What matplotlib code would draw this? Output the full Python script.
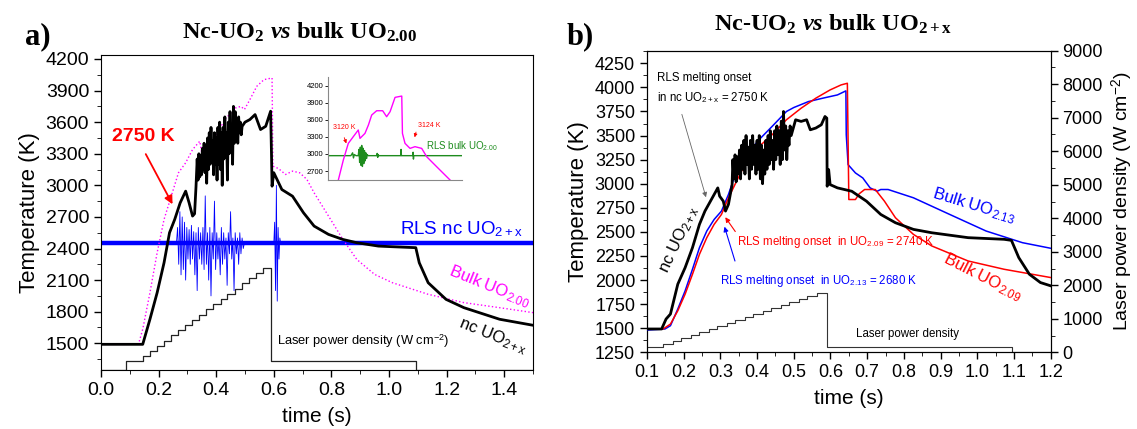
import matplotlib
matplotlib.use("Agg")
import matplotlib.pyplot as plt
from matplotlib.ticker import MultipleLocator

plt.rcParams['font.family'] = ['Liberation Sans', 'DejaVu Sans']
plt.rcParams['mathtext.fontset'] = 'custom'
plt.rcParams['mathtext.rm'] = 'Liberation Serif:bold'
plt.rcParams['mathtext.bf'] = 'Liberation Serif:bold'
plt.rcParams['mathtext.it'] = 'Liberation Serif:bold:italic'
plt.rcParams['mathtext.sf'] = 'Liberation Sans'

# ---------------- panel a data ----------------
# nc UO2+x temperature (black)
a_nc_t = [0.0, 0.145, 0.17, 0.195, 0.219, 0.238, 0.256, 0.275, 0.294, 0.306, 0.318, 0.325, 0.330,
          0.334, 0.337, 0.340, 0.343, 0.346, 0.349, 0.352, 0.355, 0.358, 0.361, 0.364, 0.367, 0.370,
          0.373, 0.376, 0.379, 0.382, 0.385, 0.388, 0.391, 0.394, 0.397, 0.400, 0.403, 0.406, 0.409,
          0.412, 0.415, 0.418, 0.421, 0.424, 0.427, 0.430, 0.433, 0.436, 0.439, 0.442, 0.445, 0.448,
          0.451, 0.454, 0.457, 0.460, 0.463, 0.466, 0.469, 0.472, 0.475, 0.478, 0.481, 0.484, 0.487,
          0.490, 0.500, 0.517, 0.535, 0.554, 0.572, 0.589, 0.592, 0.594, 0.600, 0.628, 0.665, 0.703,
          0.740, 0.790, 0.840, 0.888, 0.963, 1.012, 1.093, 1.105, 1.136, 1.198, 1.260, 1.384, 1.500]
a_nc_T = [1490, 1490, 1728, 1980, 2265, 2550, 2676, 2834, 2945, 2834, 2708, 2730, 2990,
          3250, 3050, 3300, 3080, 3280, 3100, 3350, 3150, 3400, 3120, 3380, 3020, 3450,
          3150, 3500, 3200, 3550, 3250, 3420, 3100, 3500, 3200, 3450, 3050, 3550, 3200,
          3600, 3150, 3500, 3000, 3550, 3250, 3650, 3300, 3500, 3050, 3600, 3300, 3700,
          3350, 3550, 3200, 3750, 3400, 3700, 3450, 3600, 3400, 3650, 3500, 3600, 3480,
          3560, 3600, 3625, 3672, 3530, 3561, 3704, 3300, 2992, 3120, 2960, 2897, 2740,
          2613, 2534, 2486, 2455, 2423, 2417, 2408, 2265, 2075, 1917, 1838, 1728, 1671]

# bulk UO2.00 temperature (magenta dotted)
a_bulk_t = [0.0, 0.130, 0.145, 0.170, 0.195, 0.219, 0.244, 0.269, 0.294, 0.318, 0.343, 0.350, 0.393,
            0.430, 0.467, 0.486, 0.498, 0.517, 0.541, 0.566, 0.594, 0.597, 0.616, 0.641, 0.665, 0.690,
            0.715, 0.740, 0.790, 0.840, 0.888, 0.950, 1.012, 1.136, 1.260, 1.384, 1.500]
a_bulk_T = [1490, 1490, 1633, 1980, 2360, 2676, 2897, 3119, 3214, 3340, 3419, 3308, 3435,
            3625, 3735, 3750, 3720, 3814, 3941, 4004, 4020, 3182, 3160, 3103, 3135, 3119,
            3056, 2929, 2708, 2486, 2297, 2154, 2075, 1965, 1886, 1838, 1791]

# RLS signal on nc UO2+x (blue)
a_rls_t = [0.0, 0.262, 0.266, 0.270, 0.274, 0.278, 0.282, 0.286, 0.290, 0.294, 0.298, 0.302, 0.306,
           0.310, 0.314, 0.318, 0.322, 0.326, 0.330, 0.334, 0.338, 0.342, 0.346, 0.350, 0.354, 0.358,
           0.362, 0.366, 0.370, 0.374, 0.378, 0.382, 0.386, 0.390, 0.394, 0.398, 0.402, 0.406, 0.410,
           0.414, 0.418, 0.422, 0.426, 0.430, 0.434, 0.438, 0.442, 0.446, 0.450, 0.454, 0.458, 0.462,
           0.466, 0.470, 0.474, 0.478, 0.482, 0.486, 0.490, 0.494, 0.498, 0.600, 0.603, 0.606, 0.609,
           0.612, 0.615, 0.618, 0.621, 0.624, 1.500]
a_rls_T = [2450, 2450, 2600, 2250, 2750, 2150, 2700, 2200, 2650, 2100, 2600, 2300, 2580,
           2250, 2620, 2300, 2560, 2150, 2550, 2000, 2600, 2300, 2550, 2250, 2600, 2200,
           2900, 2250, 2550, 2100, 2600, 1950, 2550, 2300, 2850, 2200, 2550, 2300, 2500,
           2150, 2600, 2250, 2550, 2300, 2500, 2050, 2550, 2350, 2750, 2300, 2500, 2000,
           2550, 2350, 2500, 2250, 2550, 2350, 2500, 2400, 2450, 2450, 2650, 2000, 3000,
           1900, 2600, 2300, 2500, 2450, 2450]

# inset: bulk UO2.00 temperature and RLS signal
ins_t = [0.227, 0.256, 0.285, 0.314, 0.343, 0.353, 0.382, 0.402, 0.421, 0.450, 0.485, 0.508,
         0.528, 0.557, 0.596, 0.600, 0.615, 0.644, 0.673, 0.712, 0.741, 0.799, 0.877]
ins_T = [2542, 2893, 3186, 3304, 3421, 3274, 3362, 3509, 3684, 3760, 3760, 3655,
         3743, 3995, 4018, 3362, 3186, 3098, 3128, 3098, 2952, 2776, 2542]
ins_rls_t = [0.165, 0.300, 0.310, 0.315, 0.320, 0.330, 0.343, 0.347, 0.351, 0.355, 0.359, 0.363,
             0.367, 0.371, 0.375, 0.379, 0.383, 0.387, 0.391, 0.395, 0.400, 0.420, 0.450, 0.453,
             0.456, 0.459, 0.462, 0.500, 0.590, 0.592, 0.594, 0.620, 0.660, 0.662, 0.664, 0.666,
             0.700, 0.945]
ins_rls_T = [2970, 2970, 3020, 2930, 2990, 2970, 2970, 3080, 2850, 3120, 2800, 3150,
             2780, 3100, 2830, 3060, 2880, 3020, 2920, 2990, 2970, 2970, 2970, 3010,
             2940, 2990, 2970, 2970, 2970, 3080, 2970, 2970, 2970, 3030, 2910, 2970,
             2970, 2970]

# laser power density steps (W cm-2), shared by both panels
laser_t = [0.0, 0.087, 0.145, 0.170, 0.194, 0.219, 0.243, 0.268, 0.292, 0.317, 0.341, 0.366,
           0.390, 0.415, 0.439, 0.464, 0.488, 0.513, 0.537, 0.562, 0.590, 1.095, 1.500]
laser_p = [0, 150, 240, 330, 420, 510, 600, 690, 780, 870, 960, 1050,
           1140, 1230, 1320, 1410, 1500, 1590, 1680, 1760, 150, 0, 0]

# ---------------- panel b data ----------------
b_nc_t = [0.100, 0.140, 0.152, 0.164, 0.174, 0.184, 0.204, 0.224, 0.243, 0.258, 0.273, 0.288,
          0.293, 0.298, 0.308, 0.314, 0.322, 0.332,
          0.334, 0.337, 0.340, 0.343, 0.346, 0.349, 0.352, 0.355, 0.358, 0.361, 0.364, 0.367,
          0.370, 0.373, 0.376, 0.379, 0.382, 0.385, 0.388, 0.391, 0.394, 0.397, 0.400, 0.403,
          0.406, 0.409, 0.412, 0.415, 0.418, 0.421, 0.424, 0.427, 0.430, 0.433, 0.436, 0.439,
          0.442, 0.445, 0.448, 0.451, 0.454, 0.457, 0.460, 0.463, 0.466, 0.469, 0.472, 0.475,
          0.478, 0.481, 0.484, 0.487, 0.490, 0.493,
          0.505, 0.520, 0.535, 0.545, 0.560, 0.575, 0.585, 0.590, 0.591, 0.595, 0.599, 0.619,
          0.658, 0.698, 0.737, 0.777, 0.826, 0.876, 0.975, 1.073, 1.093, 1.113, 1.142, 1.172, 1.200]
b_nc_T = [1492, 1492, 1595, 1647, 1802, 1957, 2129, 2336, 2578, 2716, 2819, 2922,
          2957, 2871, 2819, 2716, 2785, 2991,
          3250, 3050, 3300, 3020, 3280, 3100, 3350, 3050, 3400, 3150, 3450, 3100,
          3500, 3200, 3380, 3050, 3450, 3150, 3500, 3200, 3400, 3100, 3450, 3150,
          3500, 3050, 3400, 3000, 3350, 3100, 3450, 3150, 3500, 3200, 3550, 3250,
          3450, 3150, 3550, 3250, 3600, 3300, 3550, 3200, 3650, 3250, 3750, 3350,
          3600, 3250, 3550, 3400, 3600, 3500,
          3664, 3647, 3664, 3560, 3578, 3612, 3698, 3681, 2974, 3147, 2991, 2957,
          2922, 2819, 2681, 2595, 2526, 2491, 2440, 2423, 2412, 2233, 2060, 1974, 1940]

b_213_t = [0.100, 0.149, 0.164, 0.184, 0.204, 0.224, 0.243, 0.263, 0.283, 0.303, 0.322, 0.342,
           0.362, 0.382, 0.401, 0.441, 0.480, 0.500, 0.540, 0.579, 0.619, 0.642, 0.643, 0.648,
           0.668, 0.688, 0.708, 0.727, 0.737, 0.757, 0.826, 0.925, 1.024, 1.123, 1.200]
b_213_T = [1481, 1492, 1526, 1699, 1888, 2112, 2336, 2509, 2629, 2716, 2888, 3112,
           3233, 3336, 3440, 3595, 3750, 3791, 3853, 3888, 3922, 3964, 3509, 3198,
           3112, 3060, 2957, 2922, 2940, 2940, 2854, 2681, 2509, 2388, 2330]

b_209_t = [0.100, 0.144, 0.164, 0.184, 0.204, 0.224, 0.243, 0.263, 0.283, 0.303, 0.322, 0.342,
           0.362, 0.382, 0.401, 0.441, 0.480, 0.520, 0.560, 0.599, 0.629, 0.646, 0.650, 0.668,
           0.678, 0.693, 0.722, 0.747, 0.777, 0.826, 0.876, 0.975, 1.073, 1.200]
b_209_T = [1492, 1492, 1543, 1681, 1854, 2060, 2267, 2440, 2578, 2681, 2853, 3009,
           3164, 3267, 3371, 3509, 3664, 3784, 3888, 3974, 4026, 4043, 2836, 2836,
           2895, 2940, 2940, 2819, 2647, 2474, 2354, 2198, 2112, 2026]

BLUE = '#0000ff'
RED = '#ff0000'
MAG = '#ff00ff'
GREEN = '#1e8c1e'

fig = plt.figure(figsize=(11.37, 4.29), dpi=100)

# ================= panel a =================
ax = fig.add_axes([0.0888, 0.1375, 0.38, 0.7343])
axl = ax.twinx()
axl.set_ylim(0, 5450)
axl.axis('off')
axl.plot(laser_t, laser_p, drawstyle='steps-post', color='#222222', lw=0.9)

ax.plot(a_rls_t, a_rls_T, color=BLUE, lw=0.6, zorder=2)
ax.plot([0, 1.5], [2450, 2450], color=BLUE, lw=3.2, zorder=2)
ax.plot(a_bulk_t, a_bulk_T, color=MAG, lw=1.0, ls=':', zorder=3)
ax.plot(a_nc_t, a_nc_T, color='black', lw=2.0, zorder=4)
ax.set_zorder(axl.get_zorder() + 1)
ax.patch.set_visible(False)

ax.set_xlim(0, 1.5)
ax.set_ylim(1246, 4238)
ax.set_yticks([1500, 1800, 2100, 2400, 2700, 3000, 3300, 3600, 3900, 4200])
ax.xaxis.set_major_locator(MultipleLocator(0.2))
ax.xaxis.set_minor_locator(MultipleLocator(0.1))
ax.yaxis.set_minor_locator(MultipleLocator(150))
ax.tick_params(labelsize=14, length=5, width=1)
ax.tick_params(which='minor', length=3)
ax.set_xticklabels([f'{v:.1f}' for v in ax.get_xticks()])
ax.set_xlabel('time (s)', fontsize=15, labelpad=6)
ax.set_ylabel('Temperature (K)', fontsize=16, labelpad=4)

ax.text(0.037, 3462, '2750 K', color=RED, fontsize=14, fontweight='bold', va='center')
ax.annotate('', xy=(0.253, 2797), xytext=(0.151, 3320),
            arrowprops=dict(arrowstyle='-|>', color=RED, lw=1.3, mutation_scale=12))
ax.text(1.465, 2490, r'RLS nc UO$_{\mathsf{2+x}}$', color=BLUE, fontsize=13.5, ha='right', va='bottom')
ax.text(1.35, 2040, r'Bulk UO$_{\mathsf{2.00}}$', color=MAG, fontsize=12, ha='center', va='center',
        rotation=-22)
ax.text(1.36, 1570, r'nc UO$_{\mathsf{2+x}}$', color='black', fontsize=12, ha='center', va='center',
        rotation=-22)
ax.text(0.61, 1520, r'Laser power density (W cm$^{\mathsf{-2}}$)', fontsize=9.3, va='center')

# inset
ins = fig.add_axes([0.2882, 0.5804, 0.1179, 0.2401])
ins.patch.set_visible(False)
ins.plot(ins_rls_t, ins_rls_T, color=GREEN, lw=1.0)
ins.plot(ins_t, ins_T, color=MAG, lw=1.0)
ins.set_xlim(0.165, 0.945)
ins.set_ylim(2542, 4353)
ins.set_yticks([2700, 3000, 3300, 3600, 3900, 4200])
ins.set_xticks([])
ins.spines['top'].set_visible(False)
ins.spines['right'].set_visible(False)
ins.spines['left'].set_color('#888888')
ins.spines['bottom'].set_color('#888888')
ins.tick_params(labelsize=5.5, length=2, width=0.6, pad=1)
ins.text(0.196, 3473, '3120 K', color=RED, fontsize=5, va='center')
ins.annotate('', xy=(0.279, 3139), xytext=(0.256, 3333),
             arrowprops=dict(arrowstyle='-|>', color=RED, lw=0.6, mutation_scale=5))
ins.text(0.693, 3509, '3124 K', color=RED, fontsize=5, va='center')
ins.annotate('', xy=(0.667, 3245), xytext=(0.683, 3432),
             arrowprops=dict(arrowstyle='-|>', color=RED, lw=0.6, mutation_scale=5))
ins.text(0.737, 3139, r'RLS bulk UO$_{\mathsf{2.00}}$', color=GREEN, fontsize=7, va='center')

# ================= panel b =================
bx = fig.add_axes([0.569, 0.1788, 0.3551, 0.7030])
br = bx.twinx()
br.plot(laser_t, laser_p, drawstyle='steps-post', color='#333333', lw=0.8)
br.set_ylim(0, 9000)
br.yaxis.set_major_locator(MultipleLocator(1000))
br.yaxis.set_minor_locator(MultipleLocator(500))
br.tick_params(labelsize=13, length=5, width=1)
br.tick_params(which='minor', length=3)
br.set_ylabel(r'Laser power density (W cm$^{\mathsf{-2}}$)', fontsize=14, labelpad=5)

bx.plot(b_213_t, b_213_T, color=BLUE, lw=1.1, zorder=3)
bx.plot(b_209_t, b_209_T, color=RED, lw=1.1, zorder=3)
bx.plot(b_nc_t, b_nc_T, color='black', lw=2.0, zorder=4)
bx.set_zorder(br.get_zorder() + 1)
bx.patch.set_visible(False)

bx.set_xlim(0.1, 1.2)
bx.set_ylim(1250, 4381)
bx.set_yticks([1250, 1500, 1750, 2000, 2250, 2500, 2750, 3000, 3250, 3500, 3750, 4000, 4250])
bx.xaxis.set_minor_locator(MultipleLocator(0.05))
bx.yaxis.set_minor_locator(MultipleLocator(125))
bx.set_xticks([0.1 * i for i in range(1, 13)])
bx.set_xticklabels([f'{0.1 * i:.1f}' for i in range(1, 13)])
bx.tick_params(labelsize=13, length=5, width=1)
bx.tick_params(which='minor', length=3)
bx.set_xlabel('time (s)', fontsize=15, labelpad=6)
bx.set_ylabel('Temperature (K)', fontsize=16, labelpad=4)

bx.text(0.127, 4160, 'RLS melting onset\n' + r'in nc UO$_{\mathsf{2+x}}$ = 2750 K', fontsize=8.3,
        va='top', linespacing=1.6)
bx.annotate('', xy=(0.263, 2832), xytext=(0.193, 3748),
            arrowprops=dict(arrowstyle='-|>', color='#666666', lw=0.6, mutation_scale=7))
bx.text(0.345, 2400, r'RLS melting onset  in UO$_{\mathsf{2.09}}$ = 2740 K', color=RED, fontsize=8.3,
        va='center')
bx.annotate('', xy=(0.309, 2676), xytext=(0.345, 2480),
            arrowprops=dict(arrowstyle='-|>', color=RED, lw=0.8, mutation_scale=7))
bx.text(0.30, 1990, r'RLS melting onset  in UO$_{\mathsf{2.13}}$ = 2680 K', color=BLUE, fontsize=8.3,
        va='center')
bx.annotate('', xy=(0.309, 2582), xytext=(0.342, 2170),
            arrowprops=dict(arrowstyle='-|>', color=BLUE, lw=0.8, mutation_scale=7))
bx.text(0.669, 1440, 'Laser power density', fontsize=8.3, va='center')
bx.text(0.99, 2770, r'Bulk UO$_{\mathsf{2.13}}$', color=BLUE, fontsize=12, ha='center', va='center',
        rotation=-17)
bx.text(1.013, 2032, r'Bulk UO$_{\mathsf{2.09}}$', color=RED, fontsize=12, ha='center', va='center',
        rotation=-27)
bx.text(0.186, 2416, r'nc UO$_{\mathsf{2+x}}$', color='black', fontsize=12, ha='center', va='center',
        rotation=65)

# titles
fig.text(38 / 1137, 1 - 37 / 429, 'a)', fontsize=22, fontweight='bold', family='Liberation Serif',
         ha='center', va='center')
fig.text(580 / 1137, 1 - 37 / 429, 'b)', fontsize=22, fontweight='bold', family='Liberation Serif',
         ha='center', va='center')
fig.text(300 / 1137, 1 - 32 / 429, r'Nc-UO$_2$ $vs$ bulk UO$_{2.00}$', fontsize=17.5, fontweight='bold',
         family='Liberation Serif', ha='center', va='center')
fig.text(833 / 1137, 1 - 24 / 429, r'Nc-UO$_2$ $vs$ bulk UO$_{\mathbf{2+x}}$', fontsize=17.5,
         fontweight='bold', family='Liberation Serif', ha='center', va='center')

fig.savefig('out.png', dpi=100)
